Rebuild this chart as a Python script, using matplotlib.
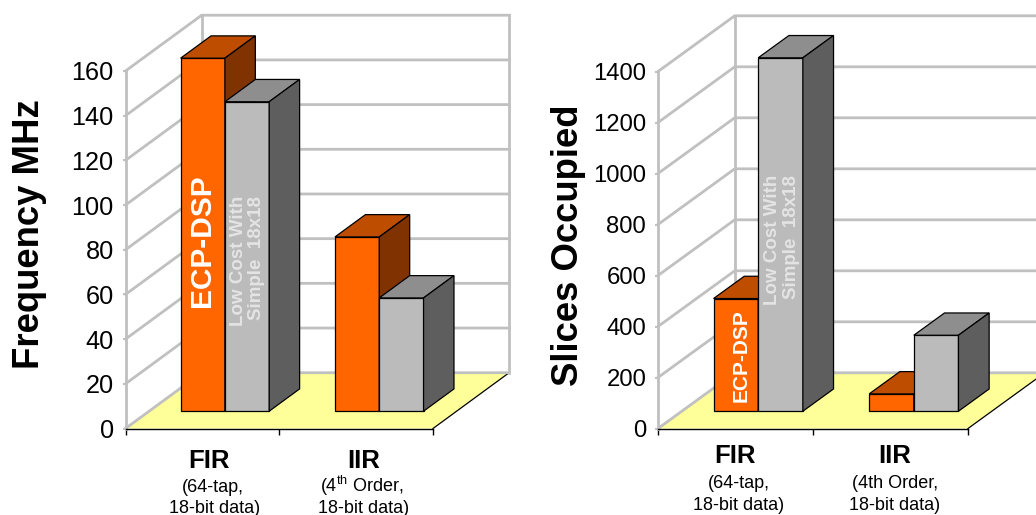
import matplotlib
matplotlib.use('Agg')
import matplotlib.pyplot as plt

# Constants
fig_w = 1036
fig_h = 515
grid_color = '#C0C0C0'
grid_lw = 2.0
floor_color = '#FFFF99'
orange = ('#FF6600', '#BF4D00', '#803300')
gray = ('#BBBBBB', '#8E8E8E', '#5E5E5E')
wall_dx = 0.495
wall_dy = 0.156
bar_front = 0.31
bar_back = 0.71
bar_width = 0.288
group_centers = [0.493, 1.497]

# Data
groups = ['FIR', 'IIR']
freq_ticks = [0, 20, 40, 60, 80, 100, 120, 140, 160]
freq_ecp = [158, 78]
freq_low = [138.5, 50.7]
slice_ticks = [0, 200, 400, 600, 800, 1000, 1200, 1400]
slice_ecp = [442, 68]
slice_low = [1386, 298]

plt.rcParams['font.family'] = ['Liberation Sans', 'DejaVu Sans']
plt.rcParams['mathtext.fontset'] = 'custom'
plt.rcParams['mathtext.rm'] = 'Liberation Sans'


def px(x, y):
    return x / fig_w, 1 - y / fig_h


def draw_bar(ax, left, value, colors):
    ymax = ax.get_ylim()[1]
    x0 = left + bar_front * wall_dx
    y0 = bar_front * wall_dy * ymax
    dx = (bar_back - bar_front) * wall_dx
    dy = (bar_back - bar_front) * wall_dy * ymax
    x1 = x0 + bar_width
    y1 = y0 + value
    ax.bar(x0, value, bar_width, bottom=y0, align='edge', color=colors[0],
           edgecolor='black', linewidth=0.9, zorder=3, clip_on=False)
    ax.fill([x0, x1, x1 + dx, x0 + dx], [y1, y1, y1 + dy, y1 + dy], facecolor=colors[1],
            edgecolor='black', linewidth=0.9, zorder=3, clip_on=False)
    ax.fill([x1, x1 + dx, x1 + dx, x1], [y0, y0 + dy, y1 + dy, y1], facecolor=colors[2],
            edgecolor='black', linewidth=0.9, zorder=3, clip_on=False)


def make_panel(rect, ticks, ecp, low, tick_size):
    left, top, right, bottom = rect
    ax = fig.add_axes([left / fig_w, 1 - bottom / fig_h, (right - left) / fig_w, (bottom - top) / fig_h])
    ymax = ticks[-1]
    ax.set_xlim(0, 2)
    ax.set_ylim(0, ymax)
    ax.patch.set_visible(False)
    back_x = wall_dx
    back_y = wall_dy * ymax

    # floor
    ax.fill([0, 2, 2 + back_x, back_x], [0, 0, back_y, back_y], facecolor=floor_color,
            edgecolor='none', zorder=1, clip_on=False)
    ax.plot([2, 2 + back_x], [0, back_y], color='black', lw=0.9, zorder=1.5, clip_on=False)

    # walls and gridlines
    for t in ticks:
        ax.plot([0, back_x, 2 + back_x], [t, t + back_y, t + back_y], color=grid_color,
                lw=grid_lw, zorder=2, clip_on=False, solid_joinstyle='miter')
    ax.plot([back_x, back_x], [back_y, ymax + back_y], color=grid_color, lw=grid_lw, zorder=2, clip_on=False)
    ax.plot([2 + back_x, 2 + back_x], [back_y, ymax + back_y], color=grid_color, lw=grid_lw, zorder=2, clip_on=False)

    for center, e, l in zip(group_centers, ecp, low):
        draw_bar(ax, center - bar_width, e, orange)
        draw_bar(ax, center, l, gray)

    for side in ['top', 'right']:
        ax.spines[side].set_visible(False)
    ax.spines['left'].set_color(grid_color)
    ax.spines['left'].set_linewidth(grid_lw)
    ax.spines['bottom'].set_linewidth(1.0)
    ax.spines['bottom'].set_zorder(2.6)
    ax.set_yticks(ticks)
    ax.set_xticks([0, 1, 2])
    ax.set_xticklabels([])
    ax.tick_params(axis='y', length=2.5, width=1.4, color=grid_color, pad=6, labelsize=tick_size)
    ax.tick_params(axis='x', length=4, width=1.0, color='black')
    return ax


def label(x, y, s, **kw):
    kw.setdefault('ha', 'center')
    kw.setdefault('va', 'center')
    fx, fy = px(x, y)
    fig.text(fx, fy, s, zorder=5, **kw)


fig = plt.figure(figsize=(fig_w / 100, fig_h / 100), dpi=100)

make_panel((125.5, 71, 433, 428.5), freq_ticks, freq_ecp, freq_low, 18.2)
make_panel((658, 71.5, 968, 428.5), slice_ticks, slice_ecp, slice_low, 17.2)

# axis titles
label(30, 234, 'Frequency MHz', rotation=90, fontsize=26.3, fontweight='bold')
label(569, 245, 'Slices Occupied', rotation=90, fontsize=26.3, fontweight='bold')

# text inside bars
label(201.5, 241, 'ECP-DSP', rotation=90, fontsize=21.5, fontweight='bold', color='white')
label(247.5, 261, 'Low Cost With\nSimple  18x18', rotation=90, fontsize=13.5, fontweight='bold',
      color='#E4E4E4', multialignment='right', linespacing=1.1)
label(741, 356, 'ECP-DSP', rotation=90, fontsize=15, fontweight='bold', color='white')
label(782, 240, 'Low Cost With\nSimple  18x18', rotation=90, fontsize=13.5, fontweight='bold',
      color='#E4E4E4', multialignment='right', linespacing=1.1)

# group labels, left chart
label(209, 468, groups[0], fontsize=18.5, fontweight='bold', va='baseline')
label(364, 468, groups[1], fontsize=18.5, fontweight='bold', va='baseline')
label(213, 492.5, '(64-tap,', fontsize=13, va='baseline')
label(215, 513, '18-bit data)', fontsize=13, va='baseline')
label(362, 492.5, r'(4$^{\mathrm{th}}$ Order,', fontsize=13, va='baseline')
label(364, 513, '18-bit data)', fontsize=13, va='baseline')

# group labels, right chart
label(735, 463, groups[0], fontsize=18.5, fontweight='bold', va='baseline')
label(895, 463, groups[1], fontsize=18.5, fontweight='bold', va='baseline')
label(739, 488, '(64-tap,', fontsize=13, va='baseline')
label(739, 510, '18-bit data)', fontsize=13, va='baseline')
label(895, 488, '(4th Order,', fontsize=13, va='baseline')
label(895, 510, '18-bit data)', fontsize=13, va='baseline')

fig.savefig('out.png', dpi=100)
